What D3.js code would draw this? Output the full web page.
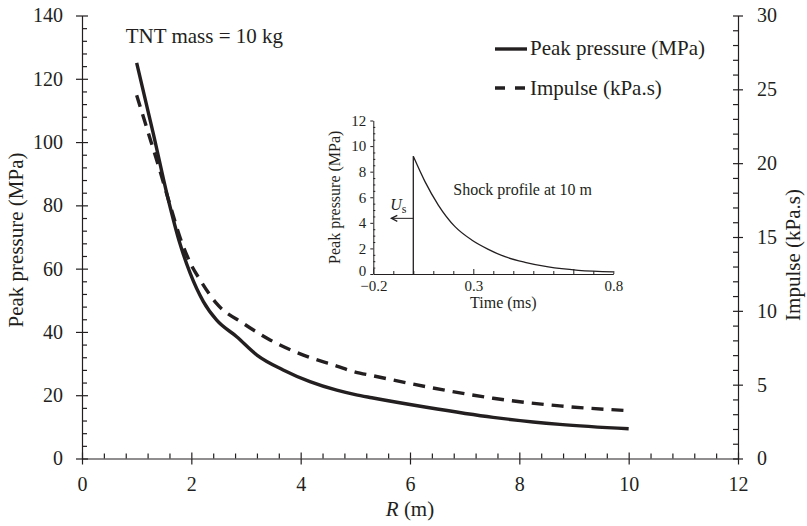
<!DOCTYPE html>
<html>
<head>
<meta charset="utf-8">
<script src="https://cdn.jsdelivr.net/npm/d3@7"></script>
<style>
  html, body { margin: 0; padding: 0; background: #fff; }
  svg text { font-family: "Liberation Serif", "Times New Roman", serif; fill: #231f20; }
  .axis path, .axis line { stroke: #231f20; stroke-width: 1.2; }
  .axis text { font-size: 20px; }
  .inset .axis path, .inset .axis line { stroke-width: 1; }
  .inset .axis text { font-size: 15px; }
</style>
</head>
<body>
<div id="chart"></div>
<script>
/* ---------- Data ---------- */
// Peak pressure (MPa) vs stand-off R (m)
const pressureR = [1, 1.3, 1.58, 1.79, 1.98, 2.22, 2.46, 2.83, 3.2, 3.68, 4.17, 4.66, 5.0, 5.3, 6.3, 7.52, 8.74, 10];
const pressure  = [125, 103, 81.7, 68.0, 58.5, 49.6, 43.8, 38.5, 32.7, 28.0, 24.3, 21.6, 20.2, 19.2, 16.2, 13.0, 10.8, 9.4];
// Impulse (kPa.s) vs R (m)
const impulseR = [1, 1.2, 1.4, 1.6, 1.8, 2.0, 2.16, 2.46, 2.95, 3.44, 4.05, 4.66, 5.0, 5.3, 6.3, 7.52, 8.74, 10];
const impulse  = [24.6, 22.2, 19.8, 17.3, 14.9, 13.1, 12.1, 10.5, 9.15, 8.03, 7.0, 6.26, 5.85, 5.62, 4.86, 4.08, 3.56, 3.24];
// Inset: shock profile at 10 m, time (ms) vs pressure (MPa)
const shockT = [0, 0.0585, 0.125, 0.2085, 0.292, 0.375, 0.4585, 0.5585, 0.675, 0.825, 1.0];
const shockP = [9.2, 7.22, 5.39, 3.70, 2.66, 1.93, 1.35, 0.91, 0.55, 0.29, 0.17];
const shockFront = 0;       // time of the shock front (ms)
const arrowP = 4.35;        // height of the U_s arrow (MPa)
const arrowT = -0.11;       // arrow tip (ms)

// ticks
const xTicks  = [0, 2, 4, 6, 8, 10, 12];
const yLTicks = [0, 20, 40, 60, 80, 100, 120, 140];
const yRTicks = [0, 5, 10, 15, 20, 25, 30];
const insetYTicks = [0, 2, 4, 6, 8, 10, 12];
const insetXTicks = [-0.2, 0.3, 1.0];
const insetXLabels = ["\u22120.2", "0.3", "0.8"];
const insetXMajor = [-0.2, 0.3, 0.8];

/* ---------- Layout ---------- */
const W = 807, H = 526;
const M = { left: 82, right: 738, top: 15.5, bottom: 458.5 };

const svg = d3.select("#chart").append("svg")
  .attr("width", W).attr("height", H);

const x  = d3.scaleLinear().domain([0, 12]).range([M.left, M.right]);
const yL = d3.scaleLinear().domain([0, 140]).range([M.bottom, M.top]);
const yR = d3.scaleLinear().domain([0, 30]).range([M.bottom, M.top]);

const noLabel = () => "";
const notIn = list => v => !list.some(t => Math.abs(t - v) < 1e-9);

/* ---------- Main axes ---------- */
// x axis
svg.append("g").attr("class", "axis")
  .attr("transform", `translate(0,${M.bottom})`)
  .call(d3.axisBottom(x).tickValues(xTicks).tickSize(6).tickSizeOuter(0).tickPadding(12).tickFormat(d3.format("d")));
svg.append("g").attr("class", "axis")
  .attr("transform", `translate(0,${M.bottom})`)
  .call(d3.axisBottom(x).tickValues(xTicks).tickSize(-6).tickFormat(noLabel))
  .call(g => g.select(".domain").remove());
svg.append("g").attr("class", "axis")
  .attr("transform", `translate(0,${M.bottom})`)
  .call(d3.axisBottom(x).tickValues(d3.range(0, 12.01, 0.4).filter(notIn(xTicks))).tickSize(-5).tickFormat(noLabel))
  .call(g => g.select(".domain").remove());

// left y axis
svg.append("g").attr("class", "axis")
  .attr("transform", `translate(${M.left},0)`)
  .call(d3.axisLeft(yL).tickValues(yLTicks).tickSize(6).tickSizeOuter(0).tickPadding(13));
svg.append("g").attr("class", "axis")
  .attr("transform", `translate(${M.left},0)`)
  .call(d3.axisLeft(yL).tickValues(yLTicks).tickSize(-6).tickFormat(noLabel))
  .call(g => g.select(".domain").remove());
svg.append("g").attr("class", "axis")
  .attr("transform", `translate(${M.left},0)`)
  .call(d3.axisLeft(yL).tickValues(d3.range(0, 141, 4).filter(notIn(yLTicks))).tickSize(-5).tickFormat(noLabel))
  .call(g => g.select(".domain").remove());

// right y axis
svg.append("g").attr("class", "axis")
  .attr("transform", `translate(${M.right},0)`)
  .call(d3.axisRight(yR).tickValues(yRTicks).tickSize(5).tickSizeOuter(0).tickPadding(14));
svg.append("g").attr("class", "axis")
  .attr("transform", `translate(${M.right},0)`)
  .call(d3.axisRight(yR).tickValues(yRTicks).tickSize(-5).tickFormat(noLabel))
  .call(g => g.select(".domain").remove());
svg.append("g").attr("class", "axis")
  .attr("transform", `translate(${M.right},0)`)
  .call(d3.axisRight(yR).tickValues(d3.range(0, 31, 1).filter(notIn(yRTicks))).tickSize(-5).tickFormat(noLabel))
  .call(g => g.select(".domain").remove());

// axis titles
const xt = svg.append("text")
  .attr("x", x(6)).attr("y", 516)
  .attr("text-anchor", "middle").style("font-size", "21px");
xt.append("tspan").style("font-style", "italic").text("R");
xt.append("tspan").text(" (m)");

svg.append("text")
  .attr("transform", `translate(23,${yL(70) + 3}) rotate(-90)`)
  .attr("text-anchor", "middle").style("font-size", "21px")
  .text("Peak pressure (MPa)");

svg.append("text")
  .attr("transform", `translate(800,${yR(15) + 18}) rotate(-90)`)
  .attr("text-anchor", "middle").style("font-size", "21px")
  .text("Impulse (kPa.s)");

/* ---------- Curves ---------- */
const pLine = d3.line()
  .x((d, i) => x(pressureR[i]))
  .y(d => yL(d))
  .curve(d3.curveMonotoneX);
const iLine = d3.line()
  .x((d, i) => x(impulseR[i]))
  .y(d => yR(d))
  .curve(d3.curveMonotoneX);

svg.append("path")
  .datum(impulse)
  .attr("d", iLine)
  .attr("fill", "none").attr("stroke", "#231f20")
  .attr("stroke-width", 3.4).attr("stroke-dasharray", "12,8");

svg.append("path")
  .datum(pressure)
  .attr("d", pLine)
  .attr("fill", "none").attr("stroke", "#231f20")
  .attr("stroke-width", 3.4);

/* ---------- Annotation & legend ---------- */
svg.append("text")
  .attr("x", x(0.8)).attr("y", yL(131.3))
  .style("font-size", "21px")
  .text("TNT mass = 10 kg");

const legend = svg.append("g").attr("transform", "translate(495,0)");
legend.append("line")
  .attr("x1", 0).attr("x2", 32).attr("y1", 49).attr("y2", 49)
  .attr("stroke", "#231f20").attr("stroke-width", 3.4);
legend.append("text").attr("x", 35).attr("y", 55).style("font-size", "21px")
  .text("Peak pressure (MPa)");
legend.append("line")
  .attr("x1", 0).attr("x2", 30).attr("y1", 88).attr("y2", 88)
  .attr("stroke", "#231f20").attr("stroke-width", 3.4).attr("stroke-dasharray", "10,10");
legend.append("text").attr("x", 35).attr("y", 95).style("font-size", "21px")
  .text("Impulse (kPa.s)");

/* ---------- Inset ---------- */
const inset = svg.append("g").attr("class", "inset");
const tx = d3.scaleLinear().domain([-0.2, 1.0]).range([373.3, 613.3]);
const ty = d3.scaleLinear().domain([0, 12]).range([274, 120.5]);

inset.append("g").attr("class", "axis")
  .attr("transform", `translate(0,${ty(0)})`)
  .call(d3.axisBottom(tx).tickValues(insetXTicks).tickSize(0).tickSizeOuter(0).tickPadding(6)
    .tickFormat((d, i) => insetXLabels[i]));
inset.append("g").attr("class", "axis")
  .attr("transform", `translate(0,${ty(0)})`)
  .call(d3.axisBottom(tx).tickValues(insetXMajor).tickSize(-5).tickFormat(noLabel))
  .call(g => g.select(".domain").remove());
inset.append("g").attr("class", "axis")
  .attr("transform", `translate(0,${ty(0)})`)
  .call(d3.axisBottom(tx).tickValues(d3.range(-0.1, 1.001, 0.1).filter(notIn(insetXMajor))).tickSize(-3).tickFormat(noLabel))
  .call(g => g.select(".domain").remove());

inset.append("g").attr("class", "axis")
  .attr("transform", `translate(${tx(-0.2)},0)`)
  .call(d3.axisLeft(ty).tickValues(insetYTicks).tickSize(3).tickSizeOuter(0).tickPadding(4))
  .call(g => g.selectAll(".tick text").filter(d => d === 0).attr("dy", "0.1em"));
inset.append("g").attr("class", "axis")
  .attr("transform", `translate(${tx(-0.2)},0)`)
  .call(d3.axisLeft(ty).tickValues(d3.range(0, 12.01, 0.5).filter(notIn(insetYTicks))).tickSize(-2).tickFormat(noLabel))
  .call(g => g.select(".domain").remove());

inset.append("text")
  .attr("x", tx(0.45)).attr("y", 308)
  .attr("text-anchor", "middle").style("font-size", "16px")
  .text("Time (ms)");
inset.append("text")
  .attr("transform", `translate(340,${ty(6)}) rotate(-90)`)
  .attr("text-anchor", "middle").style("font-size", "16px")
  .text("Peak pressure (MPa)");

// shock front + decay
const sLine = d3.line()
  .x((d, i) => tx(shockT[i]))
  .y(d => ty(d))
  .curve(d3.curveMonotoneX);
inset.append("line")
  .attr("x1", tx(shockFront)).attr("x2", tx(shockFront))
  .attr("y1", ty(0)).attr("y2", ty(shockP[0]))
  .attr("stroke", "#231f20").attr("stroke-width", 1.3);
inset.append("path")
  .datum(shockP)
  .attr("d", sLine)
  .attr("fill", "none").attr("stroke", "#231f20").attr("stroke-width", 1.3);

// U_s arrow
const ax = tx(arrowT), ay = ty(arrowP);
inset.append("line")
  .attr("x1", tx(shockFront)).attr("x2", ax)
  .attr("y1", ay).attr("y2", ay)
  .attr("stroke", "#231f20").attr("stroke-width", 1);
inset.append("path")
  .attr("d", `M${ax + 6},${ay - 3} L${ax},${ay} L${ax + 6},${ay + 3}`)
  .attr("fill", "none").attr("stroke", "#231f20").attr("stroke-width", 1.2);
const us = inset.append("text")
  .attr("x", ax - 1).attr("y", ay - 8)
  .style("font-size", "16px");
us.append("tspan").style("font-style", "italic").text("U");
us.append("tspan").attr("dy", 3).style("font-size", "12px").text("s");

inset.append("text")
  .attr("x", tx(0.2)).attr("y", 195)
  .style("font-size", "16px")
  .text("Shock profile at 10 m");
</script>
</body>
</html>
